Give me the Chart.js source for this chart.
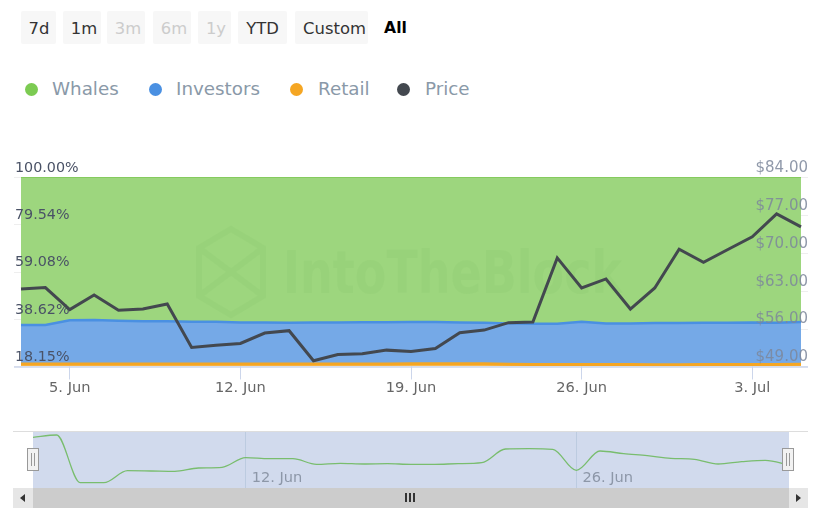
<!DOCTYPE html>
<html>
<head>
<meta charset="utf-8">
<title>Whales Investors Retail</title>
<script src="https://cdn.jsdelivr.net/npm/chart.js@4/dist/chart.umd.min.js"></script>
<style>
    html, body { margin: 0; padding: 0; background: #fff; }
    body { position: relative; width: 823px; height: 514px; overflow: hidden; font-family: "DejaVu Sans", sans-serif; }
    canvas { position: absolute; left: 0; }
    .btn { position: absolute; top: 11px; height: 33px; line-height: 35px; text-align: center; background: #f7f7f7; border-radius: 2px; font-size: 16.4px; color: #333; }
    .btn.off { color: #ccc; }
    .btn.on { background: none; font-weight: bold; color: #000; font-size: 15.6px; }
    .leg { position: absolute; top: 76px; line-height: 26px; font-size: 18.3px; color: #8a99a8; white-space: nowrap; }
    .dot { position: absolute; top: 83px; width: 13px; height: 13px; border-radius: 50%; }
    .bar { position: absolute; }
    .handle { position: absolute; top: 448px; width: 10px; height: 21px; background: #f2f2f2; border: 1px solid #999; }
    .handle i { position: absolute; top: 4px; width: 1px; height: 13px; background: #999; }
</style>
</head>
<body>
<div class="btn" style="left:21px;width:35px;text-indent:1px">7d</div>
<div class="btn" style="left:63px;width:38px;text-indent:4px">1m</div>
<div class="btn off" style="left:107px;width:38px;text-indent:4px">3m</div>
<div class="btn off" style="left:153px;width:38px;text-indent:4px">6m</div>
<div class="btn off" style="left:198px;width:33px;text-indent:3px">1y</div>
<div class="btn" style="left:238px;width:49px">YTD</div>
<div class="btn" style="left:295px;width:73px;text-indent:6px">Custom</div>
<div class="btn on" style="left:379px;width:33px">All</div>

<div class="dot" style="left:25px;background:#7ccb52"></div><div class="leg" style="left:52px">Whales</div>
<div class="dot" style="left:149px;background:#4a90e2"></div><div class="leg" style="left:176px">Investors</div>
<div class="dot" style="left:290px;background:#f5a623"></div><div class="leg" style="left:318px">Retail</div>
<div class="dot" style="left:397px;background:#43484f"></div><div class="leg" style="left:425px">Price</div>

<canvas id="grafico" width="823" height="425" style="top:0"></canvas>
<canvas id="navegador" width="823" height="60" style="top:430px"></canvas>

<div class="bar" style="left:13px;top:431px;width:795px;height:1px;background:#ddd"></div>
<div class="bar" style="left:13px;top:488px;width:795px;height:20px;background:#ccc"></div>
<div class="bar" style="left:13px;top:488px;width:20px;height:20px;background:#e6e6e6"></div>
<div class="bar" style="left:789px;top:488px;width:19px;height:20px;background:#e6e6e6"></div>
<div class="bar" style="left:20px;top:494px;border:4px solid transparent;border-left:0;border-right:5px solid #333"></div>
<div class="bar" style="left:796px;top:494px;border:4px solid transparent;border-right:0;border-left:5px solid #333"></div>
<div class="bar" style="left:405px;top:493px;width:2px;height:9px;background:#333"></div>
<div class="bar" style="left:409px;top:493px;width:2px;height:9px;background:#333"></div>
<div class="bar" style="left:413px;top:493px;width:2px;height:9px;background:#333"></div>
<div class="handle" style="left:27px"><i style="left:3px"></i><i style="left:6px"></i></div>
<div class="handle" style="left:782px"><i style="left:3px"></i><i style="left:6px"></i></div>

<script>
const dias = ['3. Jun','4. Jun','5. Jun','6. Jun','7. Jun','8. Jun','9. Jun','10. Jun','11. Jun','12. Jun','13. Jun','14. Jun','15. Jun','16. Jun','17. Jun','18. Jun','19. Jun','20. Jun','21. Jun','22. Jun','23. Jun','24. Jun','25. Jun','26. Jun','27. Jun','28. Jun','29. Jun','30. Jun','1. Jul','2. Jul','3. Jul','4. Jul','5. Jul'];

const retail = [19.2,19.2,19.2,19.2,19.2,19.2,19.2,19.2,19.2,19.2,19.2,19.2,19.2,19.25,19.25,19.25,19.3,19.3,19.35,19.3,19.1,19.0,19.0,19.0,19.0,19.0,18.95,18.95,19.0,19.0,19.05,19.05,19.1];
const investors = [16.84,16.84,18.87,19.0,18.74,18.44,18.44,18.31,18.31,18.0,18.0,17.88,18.0,17.95,18.0,18.05,18.03,18.03,17.85,17.78,17.67,17.64,17.64,18.51,17.77,17.77,17.95,17.95,18.08,18.08,18.15,18.03,18.23];
const whales = [63.96,63.96,61.93,61.8,62.06,62.36,62.36,62.49,62.49,62.8,62.8,62.92,62.8,62.8,62.75,62.7,62.67,62.67,62.8,62.92,63.23,63.36,63.36,62.49,63.23,63.23,63.1,63.1,62.92,62.92,62.8,62.92,62.67];
const precio = [63.31,63.57,59.5,62.2,59.37,59.61,60.54,52.52,52.94,53.26,55.17,55.61,50.05,51.22,51.35,52.02,51.78,52.33,55.24,55.72,57.09,57.2,69.06,63.5,65.17,59.61,63.5,70.67,68.26,70.61,72.94,77.2,74.8];
const navegadorValores = [90.5,94.6,9.5,9.5,30.9,30.4,29.8,35.7,37,54.1,52.3,52.3,42.3,44.1,42.9,43.4,42.3,42.3,43.4,45.2,69.6,70.2,69.1,31.6,66.1,61.3,57.7,53,51.3,42.9,47,49.5,41.1];

const ticksPorcentaje = [100, 79.54, 59.08, 38.62, 18.15];
const ticksPrecio = [84, 77, 70, 63, 56, 49];
const ticksFecha = ['5. Jun', '12. Jun', '19. Jun', '26. Jun', '3. Jul'];
const ticksNavegador = ['12. Jun', '26. Jun'];

// labels overlap the plot, so they are drawn here: above the areas, under the price line
function etiquetasEje(ctx, scale, valores, x, align, color, font, texto, stub) {
    ctx.font = font;
    ctx.fillStyle = color;
    ctx.textAlign = align;
    ctx.textBaseline = 'middle';
    ctx.strokeStyle = '#eeeeee';
    ctx.lineWidth = 1;
    valores.forEach(v => {
        const y = scale.getPixelForValue(v);
        ctx.fillText(texto(v), x, y - 9);
        ctx.beginPath();
        ctx.moveTo(stub[0], Math.round(y) + 0.5);
        ctx.lineTo(stub[1], Math.round(y) + 0.5);
        ctx.stroke();
    });
}

const marcaAgua = {
    id: 'marcaAgua',
    beforeDatasetDraw(chart, args) {
        if (args.index !== 3) return;
        const ctx = chart.ctx;
        ctx.save();
        ctx.strokeStyle = 'rgba(110,180,90,0.09)';
        ctx.fillStyle = 'rgba(110,180,90,0.09)';
        ctx.lineWidth = 6;
        ctx.beginPath();
        ctx.moveTo(231, 229); ctx.lineTo(263, 248); ctx.lineTo(263, 296); ctx.lineTo(231, 315);
        ctx.lineTo(199, 296); ctx.lineTo(199, 248); ctx.closePath();
        ctx.moveTo(199, 248); ctx.lineTo(263, 296);
        ctx.moveTo(263, 248); ctx.lineTo(199, 296);
        ctx.stroke();
        ctx.font = 'bold 58px "DejaVu Sans"';
        ctx.textBaseline = 'alphabetic';
        ctx.fillText('IntoTheBlock', 283, 293, 339);
        etiquetasEje(ctx, chart.scales.y, ticksPorcentaje, 15, 'left', '#4a5266', '14.3px "DejaVu Sans"', v => v.toFixed(2) + '%', [14, 21]);
        etiquetasEje(ctx, chart.scales.y1, ticksPrecio, 808, 'right', 'rgba(125,135,155,0.85)', '15px "DejaVu Sans"', v => '$' + v.toFixed(2), [801, 808]);
        ctx.restore();
    }
};

const lineaBase = {
    id: 'lineaBase',
    afterDraw(chart) {
        const ctx = chart.ctx;
        const a = chart.chartArea;
        ctx.save();
        ctx.strokeStyle = '#ccd6eb';
        ctx.lineWidth = 1.5;
        ctx.beginPath();
        ctx.moveTo(a.left - 7, a.bottom + 0.5);
        ctx.lineTo(a.right + 7, a.bottom + 0.5);
        ctx.stroke();
        ctx.restore();
    }
};

new Chart(document.getElementById('grafico').getContext('2d'), {
    type: 'line',
    data: {
        labels: dias,
        datasets: [
            { label: 'Retail', data: retail, yAxisID: 'y', order: 1, fill: 'start', borderColor: '#f5a623', backgroundColor: 'rgba(245,166,35,0.75)', borderWidth: 3 },
            { label: 'Investors', data: investors, yAxisID: 'y', order: 2, fill: '-1', borderColor: '#4a90e2', backgroundColor: 'rgba(117,169,231,1)', borderWidth: 2.5 },
            { label: 'Whales', data: whales, yAxisID: 'y', order: 3, fill: '-1', borderColor: '#85cb5e', backgroundColor: 'rgba(157,214,126,1)', borderWidth: 2 },
            { label: 'Price', data: precio, yAxisID: 'y1', order: 0, fill: false, borderColor: '#43484f', borderWidth: 3 }
        ]
    },
    options: {
        responsive: false,
        animation: false,
        events: [],
        layout: { padding: { left: 21, right: 22, top: 177, bottom: 28 } },
        elements: { point: { radius: 0 }, line: { tension: 0 } },
        plugins: { legend: { display: false }, tooltip: { enabled: false } },
        scales: {
            x: {
                offset: false,
                afterBuildTicks: axis => { axis.ticks = axis.ticks.filter(t => ticksFecha.includes(dias[t.value])); },
                grid: { drawOnChartArea: false, tickLength: 13, tickColor: '#ccd6eb' },
                border: { display: false },
                ticks: { autoSkip: false, maxRotation: 0, padding: 0, color: '#666', font: { family: 'DejaVu Sans', size: 14.6 } }
            },
            y: {
                stacked: true,
                position: 'left',
                min: 18.15,
                max: 100,
                afterBuildTicks: axis => { axis.ticks = ticksPorcentaje.map(v => ({ value: v })); },
                afterFit: axis => { axis.width = 0; },
                grid: { color: 'rgba(230,230,230,0.18)', drawTicks: false },
                border: { display: false },
                ticks: { display: false }
            },
            y1: {
                position: 'right',
                min: 49,
                max: 84,
                afterBuildTicks: axis => { axis.ticks = ticksPrecio.map(v => ({ value: v })); },
                afterFit: axis => { axis.width = 0; },
                grid: { drawOnChartArea: false, drawTicks: false },
                border: { display: false },
                ticks: { display: false }
            }
        }
    },
    plugins: [marcaAgua, lineaBase]
});

// blue mask and date labels of the navigator
const mascara = {
    id: 'mascara',
    beforeDraw(chart) {
        const a = chart.chartArea;
        chart.ctx.save();
        chart.ctx.fillStyle = 'rgba(102,133,194,0.3)';
        chart.ctx.fillRect(a.left, a.top - 1, a.right - a.left, a.bottom - a.top + 1);
        chart.ctx.restore();
    },
    afterDraw(chart) {
        const ctx = chart.ctx;
        ctx.save();
        ctx.fillStyle = '#8d97a8';
        ctx.font = '14.6px "DejaVu Sans"';
        ctx.textBaseline = 'alphabetic';
        ticksNavegador.forEach(t => {
            ctx.fillText(t, chart.scales.x.getPixelForValue(dias.indexOf(t)) + 6, 52);
        });
        ctx.restore();
    }
};

new Chart(document.getElementById('navegador').getContext('2d'), {
    type: 'line',
    data: {
        labels: dias,
        datasets: [{ data: navegadorValores, borderColor: '#79bd6e', borderWidth: 1.3, fill: false, cubicInterpolationMode: 'monotone', pointRadius: 0 }]
    },
    options: {
        responsive: false,
        animation: false,
        events: [],
        layout: { padding: { left: 33, right: 34, top: 2, bottom: 2 } },
        plugins: { legend: { display: false }, tooltip: { enabled: false } },
        scales: {
            x: {
                offset: false,
                afterBuildTicks: axis => { axis.ticks = axis.ticks.filter(t => ticksNavegador.includes(dias[t.value])); },
                grid: { color: '#bccbe0', drawTicks: false },
                border: { display: false },
                ticks: { display: false, autoSkip: false }
            },
            y: { display: false, min: 0, max: 100 }
        }
    },
    plugins: [mascara]
});
</script>
</body>
</html>
